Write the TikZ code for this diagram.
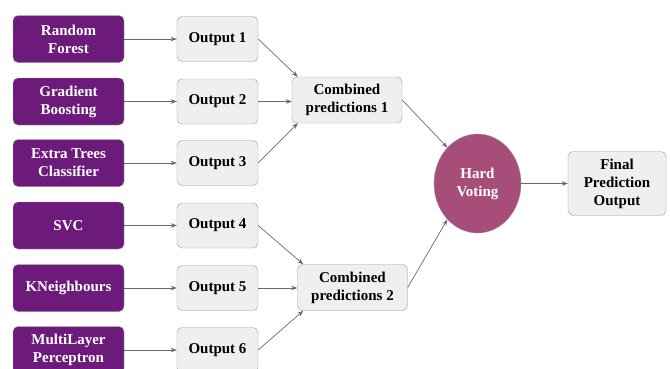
\documentclass[tikz,border=0pt]{standalone}
\usepackage{fontspec}
\setmainfont{Liberation Serif}
\usetikzlibrary{arrows.meta,shapes.geometric}
\definecolor{modelpurple}{HTML}{6D1B7B}
\definecolor{votepink}{HTML}{A64D79}
\definecolor{boxgray}{HTML}{EFEFEF}
\definecolor{edgegray}{HTML}{9A9A9A}
\definecolor{linegray}{HTML}{6A6A6A}

\begin{document}
\begin{tikzpicture}
		[x=1pt,y=-1pt,
		model/.style={rectangle,rounded corners=5pt,draw=edgegray,fill=modelpurple,
			text=white,align=center,minimum width=111pt,minimum height=47pt,
			inner sep=2pt,font=\fontsize{15}{18}\selectfont\bfseries},
		output/.style={rectangle,rounded corners=5pt,draw=edgegray,fill=boxgray,
			align=center,minimum width=81pt,minimum height=45pt,
			inner sep=2pt,font=\fontsize{15}{18}\selectfont\bfseries},
		combine/.style={output,minimum width=110pt,minimum height=46pt},
		vote/.style={ellipse,draw=edgegray,fill=votepink,text=white,align=center,
			minimum width=87pt,minimum height=99pt,inner sep=0pt,
			font=\fontsize{15}{18}\selectfont\bfseries},
		link/.style={draw=linegray,line width=0.7pt,-{Stealth[length=6pt,width=4.5pt]}}
		]
		\useasboundingbox (0,0) rectangle (670,368);

		% models
		\node[model] (rf) at (68.5,39) {Random\\Forest};
		\node[model] (gb) at (68.5,101.5) {Gradient\\Boosting};
		\node[model] (etc) at (68.5,163) {Extra Trees\\Classifier};
		\node[model] (svc) at (68.5,225.5) {SVC};
		\node[model] (kn) at (68.5,288) {KNeighbours};
		\node[model] (mlp) at (68.5,350) {MultiLayer\\Perceptron};

		% outputs
		\node[output] (out1) at (217.5,39) {Output 1};
		\node[output] (out2) at (217.5,101.5) {Output 2};
		\node[output] (out3) at (217.5,163) {Output 3};
		\node[output] (out4) at (217.5,225.5) {Output 4};
		\node[output] (out5) at (217.5,288) {Output 5};
		\node[output] (out6) at (217.5,350) {Output 6};

		\node[combine] (comb1) at (347,100) {Combined\\predictions 1};
		\node[combine] (comb2) at (352.5,287.5) {Combined\\predictions 2};
		\node[vote] (vote) at (477.5,183.5) {Hard\\Voting};
		\node[output,minimum width=98pt,minimum height=64pt] (final) at (617,183.5)
			{Final\\Prediction\\Output};

		\draw[link] (rf) -- (out1);
		\draw[link] (gb) -- (out2);
		\draw[link] (etc) -- (out3);
		\draw[link] (svc) -- (out4);
		\draw[link] (kn) -- (out5);
		\draw[link] (mlp) -- (out6);

		\draw[link] (out1.east) -- ([xshift=6pt]comb1.north west);
		\draw[link] (out2.east) -- (comb1.west |- out2.east);
		\draw[link] (out3.east) -- ([xshift=6pt]comb1.south west);
		\draw[link] (out4.east) -- ([xshift=6pt]comb2.north west);
		\draw[link] (out5.east) -- (comb2.west |- out5.east);
		\draw[link] (out6.east) -- ([xshift=6pt]comb2.south west);

		\draw[link] (comb1.east) -- (vote.130);
		\draw[link] (comb2.east) -- (vote.230);
		\draw[link] (vote.east) -- (final.west);
	\end{tikzpicture}
\end{document}
